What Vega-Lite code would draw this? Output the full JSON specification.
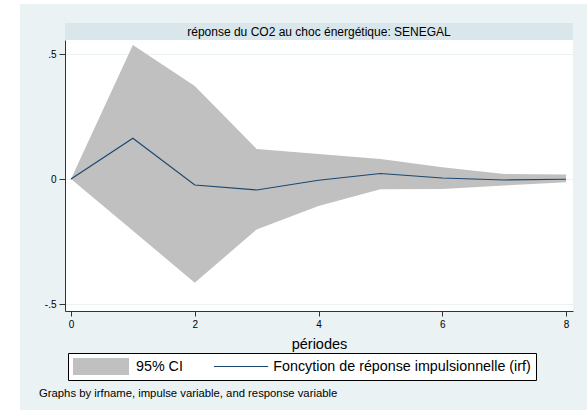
{
  "$schema": "https://vega.github.io/schema/vega-lite/v6.json",
  "background": "#EAF2F3",
  "padding": 0,
  "title": {"text": "Graphs by irfname, impulse variable, and response variable", "orient": "bottom", "anchor": "start", "frame": "group", "fontSize": 11.3, "fontWeight": "normal", "color": "black", "font": "Liberation Sans", "offset": -22.5, "dx": 39},
  "config": {"view": {"stroke": null}, "font": "Liberation Sans", "concat": {"spacing": 0}},
  "bounds": "flush",
  "spacing": 0,
  "vconcat": [
    {"width": 587, "height": 4, "view": {"fill": "white", "stroke": null}, "data": {"values": []}, "mark": "text", "encoding": {}},
    {
      "bounds": "flush",
      "spacing": 45,
      "hconcat": [
        {"width": 20, "height": 406, "view": {"fill": "white", "stroke": null}, "data": {"values": []}, "mark": "text", "encoding": {}},
        {
          "bounds": "flush",
          "spacing": 0,
          "resolve": {"scale": {"color": "independent", "strokeWidth": "independent"}, "legend": {"color": "independent", "strokeWidth": "independent"}},
          "vconcat": [
            {"width": 508, "height": 19, "data": {"values": []}, "mark": "text", "encoding": {}},
            {"width": 508, "height": 17, "view": {"fill": "#D9E6EB", "stroke": null},
             "data": {"values": [{"t": "réponse du CO2 au choc énergétique: SENEGAL"}]},
             "mark": {"type": "text", "font": "Liberation Sans", "fontSize": 12, "color": "black"},
             "encoding": {"text": {"field": "t"}}},
            {
              "width": 508, "height": 271,
              "view": {"fill": "white", "stroke": null},
              "data": {"values": [
                {"p": 0, "irf": 0, "lo": 0, "hi": 0},
                {"p": 1, "irf": 0.163, "lo": -0.207, "hi": 0.536},
                {"p": 2, "irf": -0.024, "lo": -0.415, "hi": 0.372},
                {"p": 3, "irf": -0.044, "lo": -0.202, "hi": 0.12},
                {"p": 4, "irf": -0.005, "lo": -0.108, "hi": 0.1},
                {"p": 5, "irf": 0.022, "lo": -0.041, "hi": 0.08},
                {"p": 6, "irf": 0.004, "lo": -0.04, "hi": 0.047},
                {"p": 7, "irf": -0.004, "lo": -0.026, "hi": 0.02},
                {"p": 8, "irf": -0.001, "lo": -0.013, "hi": 0.018}
              ]},
              "encoding": {
                "x": {"field": "p", "type": "quantitative",
                  "scale": {"domain": [-0.097, 8.113], "nice": false, "zero": false},
                  "axis": {"values": [0, 2, 4, 6, 8], "title": "périodes", "titleFontSize": 14.5, "titleFontWeight": "normal", "titleColor": "black", "titlePadding": 8,
                    "labelFontSize": 10, "labelColor": "black", "labelPadding": 3, "tickSize": 5, "tickColor": "#333", "domainColor": "#333", "grid": false, "labelFlush": false}}
              },
              "layer": [
                {
                  "mark": {"type": "area", "opacity": 1},
                  "encoding": {
                    "y": {"field": "hi", "type": "quantitative",
                      "scale": {"domain": [-0.528, 0.556], "nice": false, "zero": false},
                      "axis": {"values": [-0.5, 0, 0.5], "title": null, "labelExpr": "datum.value == 0.5 ? '.5' : datum.value == -0.5 ? '-.5' : '0'",
                        "labelFontSize": 10, "labelColor": "black", "labelPadding": 3, "tickSize": 6, "tickColor": "#333", "domainColor": "#333",
                        "grid": true, "gridColor": "#EAF2F3", "gridWidth": 1, "labelFlush": false}},
                    "y2": {"field": "lo"},
                    "color": {"datum": "95% CI", "type": "nominal",
                      "scale": {"domain": ["95% CI", "Foncytion de réponse impulsionnelle (irf)"], "range": ["#C0C0C0", "#1A476F"]},
                      "legend": {"title": null, "orient": "none", "legendX": 3, "legendY": 313, "direction": "horizontal",
                        "fillColor": "white", "strokeColor": "black", "padding": 5, "symbolType": "M-90,0H470", "clipHeight": 17,
                        "symbolSize": 0.04, "labelFontSize": 14.3, "labelColor": "black", "labelOffset": 45, "columnPadding": 31,
                        "labelLimit": 400, "symbolOpacity": 1}},
                    "strokeWidth": {"datum": "95% CI", "type": "ordinal",
                      "scale": {"domain": ["95% CI", "Foncytion de réponse impulsionnelle (irf)"], "range": [17, 1.2]},
                      "legend": {"title": null, "orient": "none", "legendX": 3, "legendY": 313, "direction": "horizontal",
                        "fillColor": "white", "strokeColor": "black", "padding": 5, "symbolType": "M-90,0H470", "clipHeight": 17,
                        "symbolSize": 0.04, "labelFontSize": 14.3, "labelColor": "black", "labelOffset": 45, "columnPadding": 31,
                        "labelLimit": 400, "symbolOpacity": 1}}
                  }
                },
                {
                  "mark": {"type": "line"},
                  "encoding": {
                    "y": {"field": "irf", "type": "quantitative"},
                    "color": {"datum": "Foncytion de réponse impulsionnelle (irf)", "type": "nominal"},
                    "strokeWidth": {"datum": "Foncytion de réponse impulsionnelle (irf)", "type": "ordinal"}
                  }
                }
              ]
            }
          ]
        }
      ]
    }
  ]
}
